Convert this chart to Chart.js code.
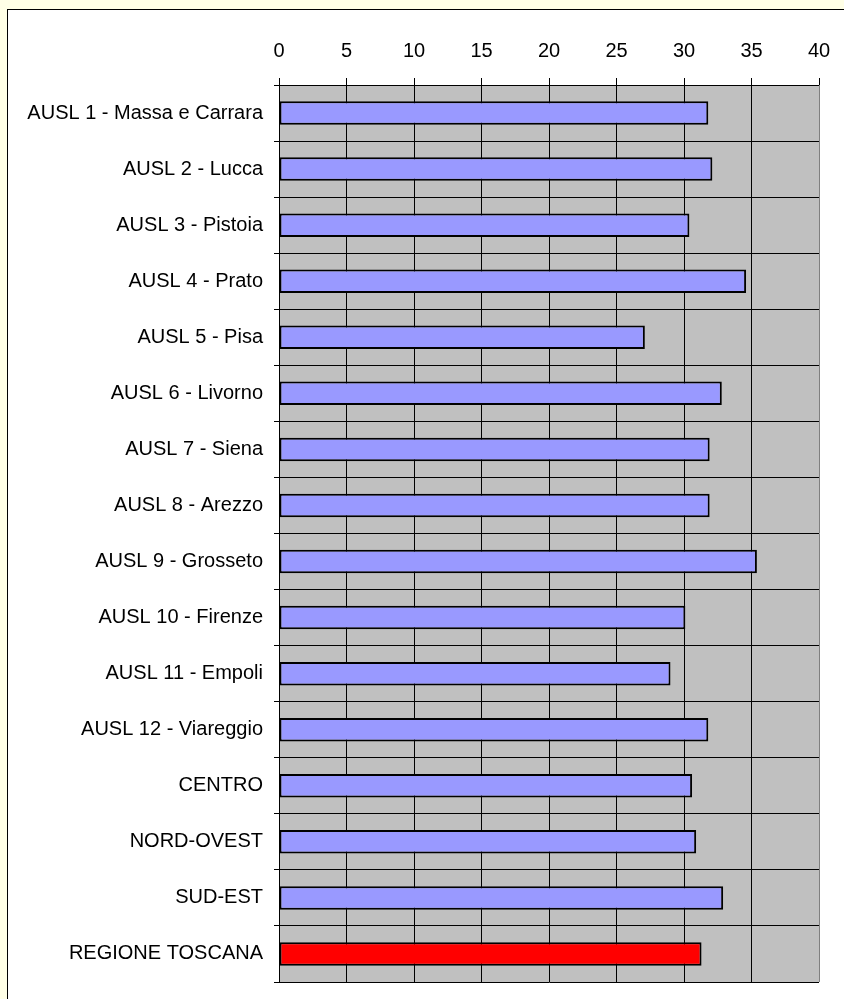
<!DOCTYPE html>
<html>
<head>
<meta charset="utf-8">
<script src="https://cdn.jsdelivr.net/npm/chart.js@4/dist/chart.umd.min.js"></script>
<style>
  html, body { margin: 0; padding: 0; background: #FFFFE6; overflow: hidden; }
  #frame {
    position: absolute; left: 7px; top: 9px; width: 900px; height: 1100px;
    background: #fff; border: 1px solid #000;
  }
  #aslChart { position: absolute; left: 0; top: 0; }
</style>
</head>
<body>
<div id="frame"></div>
<canvas id="aslChart" width="844" height="999"></canvas>
<script>
const labels = [
    'AUSL 1 - Massa e Carrara', 'AUSL 2 - Lucca', 'AUSL 3 - Pistoia', 'AUSL 4 - Prato',
    'AUSL 5 - Pisa', 'AUSL 6 - Livorno', 'AUSL 7 - Siena', 'AUSL 8 - Arezzo',
    'AUSL 9 - Grosseto', 'AUSL 10 - Firenze', 'AUSL 11 - Empoli', 'AUSL 12 - Viareggio',
    'CENTRO', 'NORD-OVEST', 'SUD-EST', 'REGIONE TOSCANA',
];
const values = [31.8, 32.1, 30.4, 34.6, 27.1, 32.8, 31.9, 31.9, 35.4, 30.1, 29.0, 31.8, 30.6, 30.9, 32.9, 31.3];
const xMin = 0;
const xMax = 40;
const xStep = 5;

const fontLabel = { family: '"Liberation Sans", Arial, sans-serif', size: 20 };

// grey plot background behind the bars
const plotBackground = {
    id: 'plotBackground',
    beforeDraw(chart) {
        const { ctx, chartArea: a } = chart;
        ctx.save();
        ctx.fillStyle = '#C0C0C0';
        ctx.fillRect(a.left, a.top, a.right - a.left, a.bottom - a.top);
        ctx.restore();
    },
};

const ctx = document.getElementById('aslChart').getContext('2d');
new Chart(ctx, {
    type: 'bar',
    data: {
        labels: labels,
        datasets: [{
            data: values,
            backgroundColor: values.map((v, i) => i === values.length - 1 ? '#FF0000' : '#9999FF'),
            borderColor: '#000',
            borderWidth: 2,
            borderSkipped: false,
            barPercentage: 0.42,
            categoryPercentage: 1,
        }],
    },
    options: {
        indexAxis: 'y',
        responsive: false,
        devicePixelRatio: 1,
        animation: false,
        layout: { padding: { left: 0, top: 0, right: 25, bottom: 17 } },
        plugins: { legend: { display: false }, tooltip: { enabled: false } },
        scales: {
            x: {
                position: 'top',
                min: xMin,
                max: xMax,
                // fixed axis height, no extra room for the last tick label
                afterFit: (s) => { s.height = 85; s.paddingLeft = 0; s.paddingRight = 0; },
                ticks: { stepSize: xStep, color: '#000', font: fontLabel, padding: 15, maxRotation: 0 },
                grid: {
                    color: (c) => c.tick.value === xMin ? 'rgba(0,0,0,0)' : (c.tick.value === xMax ? '#808080' : '#000'),
                    tickColor: '#000',
                    tickLength: 7,
                    lineWidth: 1,
                },
                border: { display: false },
            },
            y: {
                afterFit: (s) => { s.width = 279; s.paddingTop = 0; s.paddingBottom = 0; },
                ticks: { color: '#000', font: fontLabel, padding: 11, autoSkip: false },
                grid: {
                    offset: true,
                    color: (c) => c.index === labels.length ? '#808080' : '#000',
                    tickColor: '#000',
                    tickLength: 5,
                    lineWidth: 1,
                },
                border: { color: '#000', width: 1 },
            },
        },
    },
    plugins: [plotBackground],
});
</script>
</body>
</html>
